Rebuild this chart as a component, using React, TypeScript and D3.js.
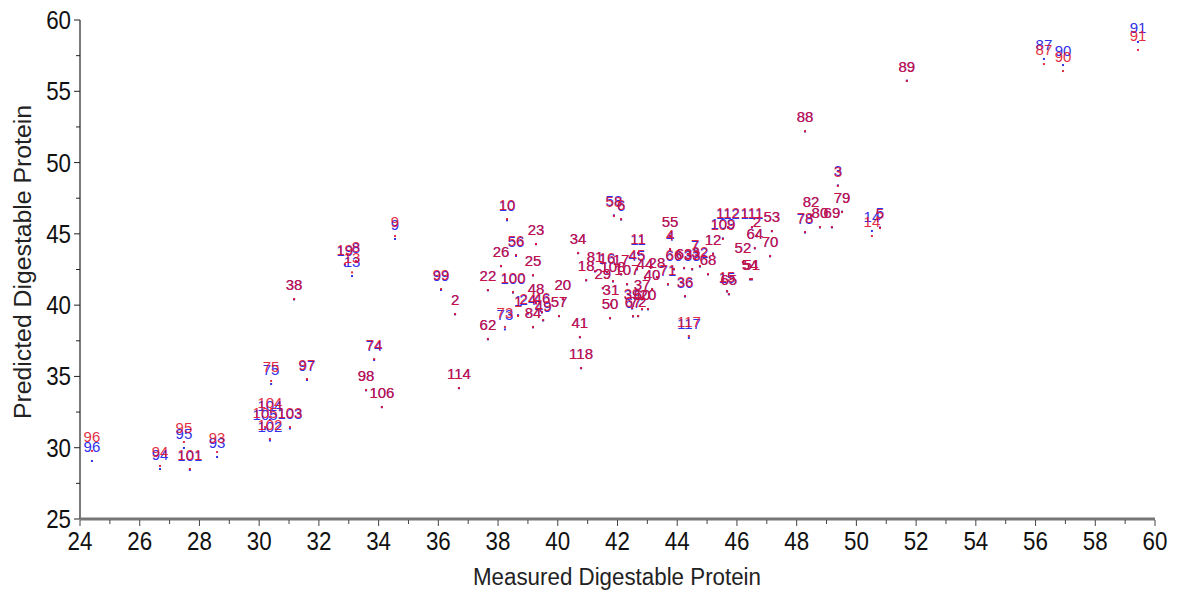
import React from "react";
import * as d3 from "d3";

// sample number, measured value, and the two predictions (red / blue)
const sampleIds = [
  "96", "94", "95", "101", "93", "104", "105", "103", "102", "75", "97", "38", "19", "13", "8", "9", "99", "2",
  "74", "98", "106", "114", "10", "56", "23", "26", "25", "22", "100", "48", "20", "57", "24", "46", "49", "84",
  "73", "1", "62", "34", "58", "6", "11", "45", "81", "16", "17", "18", "108", "29", "107", "44", "28", "40",
  "71", "31", "37", "39", "60", "20", "67", "72", "50", "41", "118", "55", "4", "66", "63", "33", "7", "32",
  "68", "36", "117", "15", "65", "12", "52", "64", "109", "112", "111", "2", "53", "70", "54", "51", "78", "82",
  "80", "69", "79", "3", "14", "5", "88", "89", "87", "90", "91",
];
const measured = [
  24.4, 26.68, 27.48, 27.68, 28.59, 30.36, 30.2, 31.03, 30.36, 30.4, 31.6, 31.17, 32.87, 33.11, 33.24, 34.55, 36.09, 36.56,
  33.85, 33.58, 34.11, 36.69, 38.3, 38.6, 39.27, 38.1, 39.17, 37.66, 38.5, 39.27, 40.17, 40.04, 39.0, 39.47, 39.51, 39.17,
  38.23, 38.67, 37.66, 40.68, 41.88, 42.12, 42.69, 42.65, 41.25, 41.65, 42.12, 40.95, 41.85, 41.51, 42.32, 42.92, 43.32, 43.16,
  43.69, 41.78, 42.82, 42.49, 42.82, 43.02, 42.52, 42.69, 41.75, 40.74, 40.78, 43.76, 43.76, 43.89, 44.23, 44.5, 44.6, 44.76,
  45.03, 44.26, 44.39, 45.67, 45.73, 45.2, 46.2, 46.6, 45.53, 45.7, 46.5, 46.67, 47.17, 47.11, 46.44, 46.5, 48.28, 48.48,
  48.78, 49.18, 49.52, 49.38, 50.52, 50.79, 48.28, 51.69, 56.28, 56.92, 59.43,
];
const predictedRed = [
  29.77, 28.72, 30.4, 28.51, 29.7, 32.15, 31.45, 31.45, 30.61, 34.68, 34.82, 40.43, 42.89, 42.3, 43.1, 44.85, 41.13, 39.38,
  36.22, 34.05, 32.86, 34.19, 46.04, 43.52, 44.29, 42.75, 42.11, 41.06, 40.92, 40.15, 40.43, 39.24, 39.45, 39.52, 38.96, 38.47,
  38.47, 39.24, 37.63, 43.66, 46.25, 46.04, 43.66, 42.54, 42.39, 42.32, 42.18, 41.76, 41.69, 41.2, 41.48, 41.9, 41.97, 41.13,
  41.48, 40.08, 40.43, 39.8, 39.73, 39.73, 39.24, 39.24, 39.1, 37.77, 35.59, 44.85, 43.94, 42.54, 42.61, 42.54, 43.24, 42.75,
  42.18, 40.64, 37.84, 40.99, 40.78, 43.59, 43.03, 44.01, 44.64, 45.48, 45.48, 44.85, 45.2, 43.45, 41.83, 41.83, 45.13, 46.25,
  45.48, 45.48, 46.53, 48.36, 44.85, 45.41, 52.21, 55.72, 56.91, 56.42, 57.9,
];
const predictedBlue = [
  29.07, 28.51, 29.98, 28.44, 29.35, 31.95, 31.3, 31.35, 30.5, 34.47, 34.75, 40.4, 42.8, 42.04, 43.05, 44.64, 41.06, 39.35,
  36.15, 34.02, 32.84, 34.17, 45.95, 43.45, 44.27, 42.73, 42.08, 41.04, 40.88, 40.12, 40.4, 39.22, 39.4, 39.48, 38.92, 38.44,
  38.3, 39.3, 37.6, 43.64, 46.3, 46.0, 43.62, 42.5, 42.36, 42.28, 42.15, 41.73, 41.66, 41.17, 41.45, 41.88, 41.95, 41.1,
  41.44, 40.05, 40.4, 39.76, 39.7, 39.7, 39.2, 39.22, 39.07, 37.74, 35.57, 44.82, 43.9, 42.5, 42.58, 42.5, 43.2, 42.7,
  42.15, 40.6, 37.7, 40.95, 40.75, 43.62, 43.0, 43.98, 44.68, 45.44, 45.44, 44.82, 45.18, 43.42, 41.8, 41.8, 45.09, 46.28,
  45.45, 45.45, 46.56, 48.4, 45.2, 45.45, 52.18, 55.75, 57.27, 56.84, 58.46,
];

const xTickLabels = d3.range(24, 61, 2);
const yTickLabels = d3.range(25, 61, 5);

const W = 1177;
const H = 595;
const RED = "#e0102c";
const BLUE = "#3030e8";

export default function App() {
  const x = d3.scaleLinear().domain([24, 60]).range([80, 1155]);
  const y = d3.scaleLinear().domain([25, 60]).range([519, 20]);
  const xMinor = d3.range(24, 61, 1);
  const yMinor = d3.range(25, 60.1, 2.5);
  const font = "'Liberation Sans', Arial, sans-serif";

  const series = [
    { color: BLUE, vals: predictedBlue, opacity: 1 },
    { color: RED, vals: predictedRed, opacity: 0.88 },
  ];

  return (
    <svg width={W} height={H} style={{ position: "absolute", left: 0, top: 0, background: "#fff" }}>
      <rect width={W} height={H} fill="#fff" />
      {/* points and sample labels */}
      {series.map((s, si) => (
        <g key={si} fill={s.color} opacity={s.opacity} fontFamily={font} fontSize={15} textAnchor="middle">
          {sampleIds.map((id, i) => (
            <g key={i}>
              <rect x={x(measured[i]) - 1} y={y(s.vals[i]) - 1} width={2} height={2} />
              <text x={x(measured[i])} y={y(s.vals[i]) - 9}>{id}</text>
            </g>
          ))}
        </g>
      ))}

      {/* y axis */}
      <line x1={80} x2={80} y1={y(60)} y2={y(25)} stroke="#222" strokeWidth={1.2} />
      {yMinor.map((v) => (
        <line key={v} x1={v % 5 === 0 ? 74 : 76} x2={80} y1={y(v)} y2={y(v)} stroke="#222" strokeWidth={1} />
      ))}
      {yTickLabels.map((v) => (
        <text key={v} transform={`translate(71,${y(v) + 9}) scale(0.86,1)`} textAnchor="end"
          fontFamily={font} fontSize={26} fill="#111">{v}</text>
      ))}

      {/* x axis */}
      <line x1={x(24)} x2={x(60)} y1={519} y2={519} stroke="#777" strokeWidth={3} />
      {xMinor.map((v) => (
        <line key={v} x1={x(v)} x2={x(v)} y1={520} y2={v % 2 === 0 ? 526 : 524} stroke="#444" strokeWidth={1} />
      ))}
      {xTickLabels.map((v) => (
        <text key={v} transform={`translate(${x(v)},550) scale(0.86,1)`} textAnchor="middle"
          fontFamily={font} fontSize={26} fill="#111">{v}</text>
      ))}

      {/* axis titles */}
      <text x={617} y={585} textAnchor="middle" fontFamily={font} fontSize={23} fill="#222"
        textLength={288} lengthAdjust="spacingAndGlyphs">Measured Digestable Protein</text>
      <text transform="translate(31,262) rotate(-90)" textAnchor="middle" fontFamily={font} fontSize={23}
        fill="#222" textLength={314} lengthAdjust="spacingAndGlyphs">Predicted Digestable Protein</text>
    </svg>
  );
}
